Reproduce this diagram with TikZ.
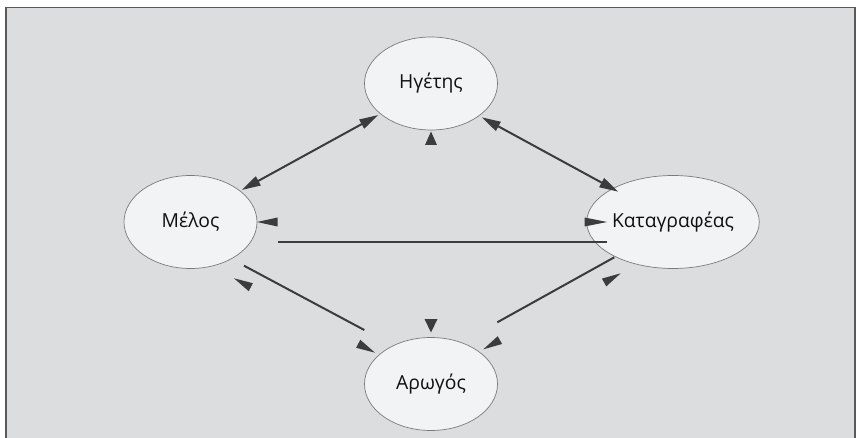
\documentclass[tikz,border=0pt]{standalone}
\usepackage{fontspec}
\setmainfont{Open Sans}
\usetikzlibrary{arrows.meta,calc,shapes.geometric}
\definecolor{bgc}{HTML}{DCDDDF}
\definecolor{ellc}{HTML}{F2F3F5}
\definecolor{ellb}{HTML}{7A7A7A}
\definecolor{arrc}{HTML}{3C3C3C}
\definecolor{framec}{HTML}{5A5A5A}
\definecolor{txtc}{HTML}{101010}
\tikzset{
  role/.style={ellipse, draw=ellb, line width=0.7pt, fill=ellc, minimum width=133pt, minimum height=93pt, inner sep=0pt, text=txtc, font=\fontsize{19.3}{23}\selectfont},
  conn/.style={draw=arrc, line width=2pt},
  dbl/.style={conn, {Triangle[length=19pt,width=10pt]}-{Triangle[length=19pt,width=10pt]}},
  tiphead/.style={fill=arrc, draw=none}
}
\begin{document}
\begin{tikzpicture}[x=1pt,y=-1pt]
\useasboundingbox (0,0) rectangle (856,438);
\fill[white] (0,0) rectangle (856,438);
\draw[fill=bgc, draw=framec, line width=1.5pt] (6,7.5) rectangle (855,450);
\node[role] (H) at (431,83.5) {Ηγέτης};
\node[role] (M) at (190.5,222) {Μέλος};
\node[role] (K) at (673,222) {Καταγραφέας};
\node[role] (A) at (431,384) {Αρωγός};
% double arrows
\draw[dbl] ($(M)+(51.2,-32)$) -- ($(H)+(-52.7,31.5)$);
\draw[dbl] ($(H)+(50.7,33.8)$) -- ($(K)+(-54.7,-30.3)$);
% plain lines
\draw[conn] ($(M)+(87.8,19.7)$) -- ($(K)+(-65.7,19.7)$);
\draw[conn] ($(M)+(53.5,43.7)$) -- ($(A)+(-66.7,-54)$);
\draw[conn] ($(K)+(-58.7,35.3)$) -- ($(A)+(66.3,-61.7)$);
% detached arrowheads
\fill[tiphead] ($(H)+(0,48)$) -- +(-6,13.5) -- +(6,13.5) -- cycle;
\fill[tiphead] ($(A)+(0,-51.5)$) -- +(-6.5,-13.5) -- +(6.5,-13.5) -- cycle;
\fill[tiphead] ($(M)+(66.5,0)$) -- +(20.5,-4.5) -- +(20.5,4.5) -- cycle;
\fill[tiphead] ($(K)+(-66,0)$) -- +(-22.5,-4.5) -- +(-22.5,4.5) -- cycle;
\fill[tiphead] ($(M)+(43.5,56.3)$) -- +(14.7,12.9) -- +(18.9,4.9) -- cycle;
\fill[tiphead] ($(A)+(-56,-31.3)$) -- +(-18.9,-4.9) -- +(-14.7,-12.9) -- cycle;
\fill[tiphead] ($(A)+(52.3,-34.7)$) -- +(18.8,-5.3) -- +(14.4,-13.1) -- cycle;
\fill[tiphead] ($(K)+(-52.3,51.3)$) -- +(-14.4,13.1) -- +(-18.8,5.3) -- cycle;
\end{tikzpicture}
\end{document}
